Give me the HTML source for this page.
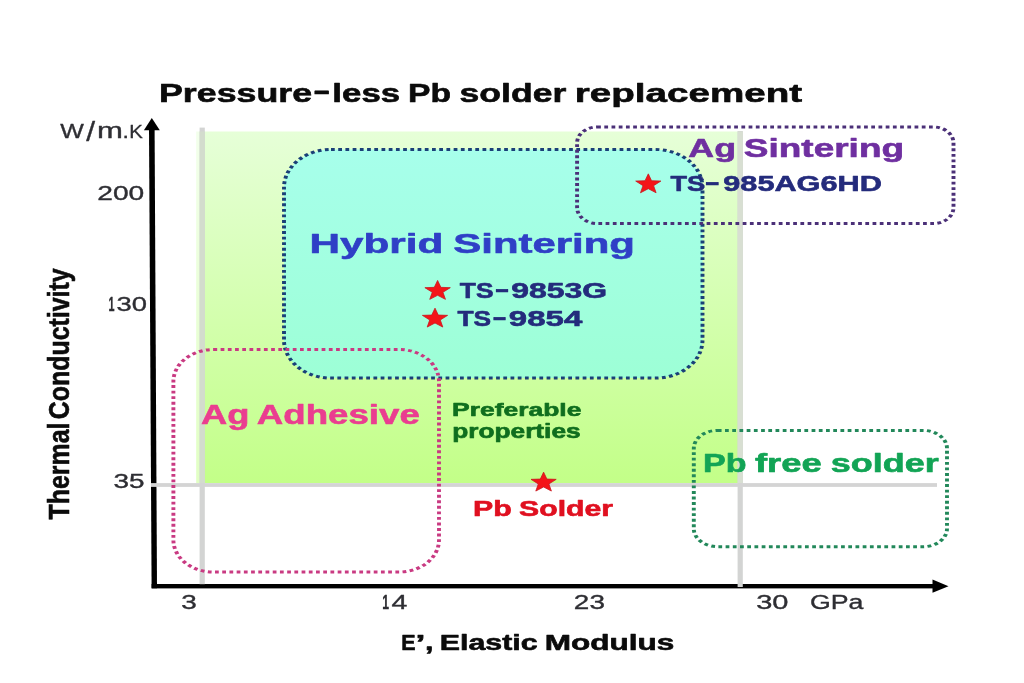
<!DOCTYPE html>
<html lang="en">
<head>
<meta charset="utf-8">
<title>Pressure-less Pb solder replacement</title>
<style>
html,body{margin:0;padding:0;background:#fff;}
body{width:1024px;height:683px;overflow:hidden;}
svg{display:block;will-change:transform;}
text{font-family:'Liberation Sans', sans-serif;}
.b{font-weight:bold;stroke-width:0.6px;stroke-linejoin:round;}
.n{stroke-width:0.35px;stroke-linejoin:round;}
</style>
</head>
<body>
<svg width="1024" height="683" viewBox="0 0 1024 683">
<defs><linearGradient id="gg" x1="0" y1="0" x2="0" y2="1"><stop offset="0" stop-color="#e6ffd8"/><stop offset="1" stop-color="#c3ff88"/></linearGradient><linearGradient id="cg" x1="0" y1="0" x2="0" y2="1"><stop offset="0" stop-color="#a7ffeb"/><stop offset="1" stop-color="#9dffd6"/></linearGradient></defs>
<rect width="1024" height="683" fill="#ffffff"/>
<rect x="196.2" y="131.5" width="4" height="351.5" fill="url(#gg)" opacity="0.5"/>
<rect x="204" y="131.5" width="534" height="351.5" fill="url(#gg)"/>
<polygon points="149,129 154.6,129 157,588.3 151.6,588.3" fill="#000"/>
<polygon points="151.8,118 159.8,130.3 143.9,130.3" fill="#000"/>
<rect x="151.6" y="584" width="782" height="4.4" fill="#000"/>
<polygon points="948.5,586.2 932.5,579.5 932.5,592.7" fill="#000"/>
<rect x="199.6" y="127.6" width="5.2" height="456.6" fill="#d3d4d3"/>
<rect x="199.6" y="131.5" width="5.2" height="351.5" fill="#d3dccd"/>
<rect x="737.6" y="131" width="5.2" height="456" fill="#d3d4d3"/>
<rect x="737.6" y="131.5" width="5.2" height="351.5" fill="#d8dfd2"/>
<rect x="151" y="483.1" width="786" height="3.8" fill="#d4d4d4"/>
<g transform="scale(1.3 1)">
<rect x="218.46" y="149.5" width="321.92" height="228.60" rx="36.15" ry="38" fill="url(#cg)" stroke="#1a4078" stroke-width="3" stroke-dasharray="2.9 2.65"/>
<rect x="443.92" y="127" width="289.54" height="96.50" rx="15.38" ry="16" fill="none" stroke="#4b3078" stroke-width="3" stroke-dasharray="2.9 2.65"/>
<rect x="133.38" y="349.5" width="204.31" height="222.50" rx="30.77" ry="32" fill="none" stroke="#c93a82" stroke-width="3" stroke-dasharray="2.9 2.65"/>
<rect x="533.69" y="430.4" width="194.77" height="116.30" rx="18.46" ry="18" fill="none" stroke="#22885a" stroke-width="3" stroke-dasharray="2.9 2.65"/>
</g>
<polygon points="648.30,173.85 651.57,180.75 660.90,181.07 653.59,185.65 656.09,192.75 648.30,188.69 640.51,192.75 643.01,185.65 635.70,181.07 645.03,180.75" fill="#f41418" stroke="#c81820" stroke-width="0.8" stroke-linejoin="miter"/>
<polygon points="437.60,280.45 440.90,287.35 450.30,287.67 442.93,292.25 445.45,299.35 437.60,295.29 429.75,299.35 432.27,292.25 424.90,287.67 434.30,287.35" fill="#f41418" stroke="#c81820" stroke-width="0.8" stroke-linejoin="miter"/>
<polygon points="435.00,308.15 438.27,315.05 447.60,315.37 440.29,319.95 442.79,327.05 435.00,322.99 427.21,327.05 429.71,319.95 422.40,315.37 431.73,315.05" fill="#f41418" stroke="#c81820" stroke-width="0.8" stroke-linejoin="miter"/>
<polygon points="543.60,472.15 546.87,479.05 556.20,479.37 548.89,483.95 551.39,491.05 543.60,486.99 535.81,491.05 538.31,483.95 531.00,479.37 540.33,479.05" fill="#f41418" stroke="#c81820" stroke-width="0.8" stroke-linejoin="miter"/>
<text class="b" y="101.65" font-size="26.16" fill="#0b0b0b" stroke="#0b0b0b"><tspan x="159.02" textLength="153.10" lengthAdjust="spacingAndGlyphs" y="101.65">Pressure</tspan><tspan x="312.90" textLength="17.42" lengthAdjust="spacingAndGlyphs" y="98.8">-</tspan><tspan x="332.37" textLength="67.78" lengthAdjust="spacingAndGlyphs" y="101.65">less</tspan> <tspan x="408.14" textLength="42.99" lengthAdjust="spacingAndGlyphs" y="101.65">Pb</tspan> <tspan x="459.55" textLength="106.72" lengthAdjust="spacingAndGlyphs" y="101.65">solder</tspan> <tspan x="574.86" textLength="227.22" lengthAdjust="spacingAndGlyphs" y="101.65">replacement</tspan></text>
<text class="n" y="138.21" font-size="19.95" fill="#2e2e33" stroke="#2e2e33"><tspan x="60.31" textLength="23.58" lengthAdjust="spacingAndGlyphs" y="138.21">W</tspan><tspan x="86.30" textLength="8.86" lengthAdjust="spacingAndGlyphs" font-size="28.09" y="141.2">/</tspan><tspan x="96.91" textLength="25.89" lengthAdjust="spacingAndGlyphs" font-size="21.84" y="138.21">m</tspan><tspan x="122.49" textLength="6.41" lengthAdjust="spacingAndGlyphs" font-size="20.09" y="138.21">.</tspan><tspan x="129.29" textLength="13.57" lengthAdjust="spacingAndGlyphs" font-size="19.08" y="138.21">K</tspan></text>
<text class="n" y="199.81" font-size="20.53" fill="#2e2e33" stroke="#2e2e33"><tspan x="97.27" textLength="47.02" lengthAdjust="spacingAndGlyphs">200</tspan></text>
<text class="n" y="310.61" font-size="20.53" fill="#2e2e33" stroke="#2e2e33"><tspan x="108.53" textLength="6.03" lengthAdjust="spacingAndGlyphs" font-weight="bold">1</tspan><tspan x="116.53" textLength="30.45" lengthAdjust="spacingAndGlyphs">30</tspan></text>
<text class="n" y="487.81" font-size="20.53" fill="#2e2e33" stroke="#2e2e33"><tspan x="113.42" textLength="31.08" lengthAdjust="spacingAndGlyphs">35</tspan></text>
<text class="n" y="608.91" font-size="20.53" fill="#2e2e33" stroke="#2e2e33"><tspan x="181.22" textLength="15.54" lengthAdjust="spacingAndGlyphs">3</tspan></text>
<text class="n" y="608.91" font-size="20.53" fill="#2e2e33" stroke="#2e2e33"><tspan x="382.26" textLength="6.78" lengthAdjust="spacingAndGlyphs" font-weight="bold">1</tspan><tspan x="391.45" textLength="15.94" lengthAdjust="spacingAndGlyphs">4</tspan></text>
<text class="n" y="608.91" font-size="20.53" fill="#2e2e33" stroke="#2e2e33"><tspan x="573.88" textLength="31.02" lengthAdjust="spacingAndGlyphs">23</tspan></text>
<text class="n" y="608.91" font-size="20.53" fill="#2e2e33" stroke="#2e2e33"><tspan x="756.19" textLength="32.25" lengthAdjust="spacingAndGlyphs">30</tspan>   <tspan x="809.93" textLength="53.45" lengthAdjust="spacingAndGlyphs">GPa</tspan></text>
<text class="b" y="649.85" font-size="22.09" fill="#0b0b0b" stroke="#0b0b0b"><tspan x="401.33" textLength="14.33" lengthAdjust="spacingAndGlyphs">E</tspan><tspan x="415.57" textLength="9.89" lengthAdjust="spacingAndGlyphs">’</tspan><tspan x="425.05" textLength="8.45" lengthAdjust="spacingAndGlyphs">,</tspan> <tspan x="439.85" textLength="97.73" lengthAdjust="spacingAndGlyphs">Elastic</tspan> <tspan x="544.79" textLength="129.53" lengthAdjust="spacingAndGlyphs">Modulus</tspan></text>
<text class="b" y="252.65" font-size="28.2" fill="#2f3fc6" stroke="#2f3fc6"><tspan x="309.45" textLength="133.81" lengthAdjust="spacingAndGlyphs">Hybrid</tspan> <tspan x="453.33" textLength="181.63" lengthAdjust="spacingAndGlyphs">Sintering</tspan></text>
<text class="b" y="297.95" font-size="22.24" fill="#242b7c" stroke="#242b7c"><tspan x="459.86" textLength="33.67" lengthAdjust="spacingAndGlyphs" y="297.95">TS</tspan><tspan x="494.81" textLength="14.58" lengthAdjust="spacingAndGlyphs" y="295.8">-</tspan><tspan x="511.15" textLength="95.94" lengthAdjust="spacingAndGlyphs" y="297.95">9853G</tspan></text>
<text class="b" y="325.95" font-size="22.24" fill="#242b7c" stroke="#242b7c"><tspan x="457.46" textLength="33.67" lengthAdjust="spacingAndGlyphs" y="325.95">TS</tspan><tspan x="492.21" textLength="14.58" lengthAdjust="spacingAndGlyphs" y="323.8">-</tspan><tspan x="508.83" textLength="73.45" lengthAdjust="spacingAndGlyphs" y="325.95">9854</tspan></text>
<text class="b" y="156.85" font-size="25.73" fill="#6f2fa0" stroke="#6f2fa0"><tspan x="688.37" textLength="47.71" lengthAdjust="spacingAndGlyphs">Ag</tspan> <tspan x="743.85" textLength="160.21" lengthAdjust="spacingAndGlyphs">Sintering</tspan></text>
<text class="b" y="191.45" font-size="22.53" fill="#242b7c" stroke="#242b7c"><tspan x="670.56" textLength="34.53" lengthAdjust="spacingAndGlyphs" y="191.45">TS</tspan><tspan x="704.89" textLength="15.13" lengthAdjust="spacingAndGlyphs" y="189.2">-</tspan><tspan x="723.29" textLength="158.59" lengthAdjust="spacingAndGlyphs" y="191.45">985AG6HD</tspan></text>
<text class="b" y="423.85" font-size="27.03" fill="#ea3d90" stroke="#ea3d90"><tspan x="201.10" textLength="48.39" lengthAdjust="spacingAndGlyphs">Ag</tspan> <tspan x="256.89" textLength="162.95" lengthAdjust="spacingAndGlyphs">Adhesive</tspan></text>
<text class="b" y="416.05" font-size="18.46" fill="#0f6e1e" stroke="#0f6e1e"><tspan x="452.14" textLength="129.31" lengthAdjust="spacingAndGlyphs">Preferable</tspan></text>
<text class="b" y="438.05" font-size="19.33" fill="#0f6e1e" stroke="#0f6e1e"><tspan x="452.21" textLength="128.43" lengthAdjust="spacingAndGlyphs">properties</tspan></text>
<text class="b" y="516.35" font-size="21.8" fill="#e01020" stroke="#e01020"><tspan x="473.08" textLength="38.69" lengthAdjust="spacingAndGlyphs">Pb</tspan> <tspan x="519.13" textLength="93.91" lengthAdjust="spacingAndGlyphs">Solder</tspan></text>
<text class="b" y="472.45" font-size="25.29" fill="#12a455" stroke="#12a455"><tspan x="703.05" textLength="43.48" lengthAdjust="spacingAndGlyphs">Pb</tspan> <tspan x="754.96" textLength="66.90" lengthAdjust="spacingAndGlyphs">free</tspan> <tspan x="830.75" textLength="108.13" lengthAdjust="spacingAndGlyphs">solder</tspan></text>
<text class="b" transform="rotate(-90)" y="69.05" font-size="29.36" fill="#0b0b0b" stroke="#0b0b0b"><tspan x="-519.46" textLength="96.87" lengthAdjust="spacingAndGlyphs">Thermal</tspan> <tspan x="-419.31" textLength="151.00" lengthAdjust="spacingAndGlyphs">Conductivity</tspan></text>
</svg>
</body>
</html>
